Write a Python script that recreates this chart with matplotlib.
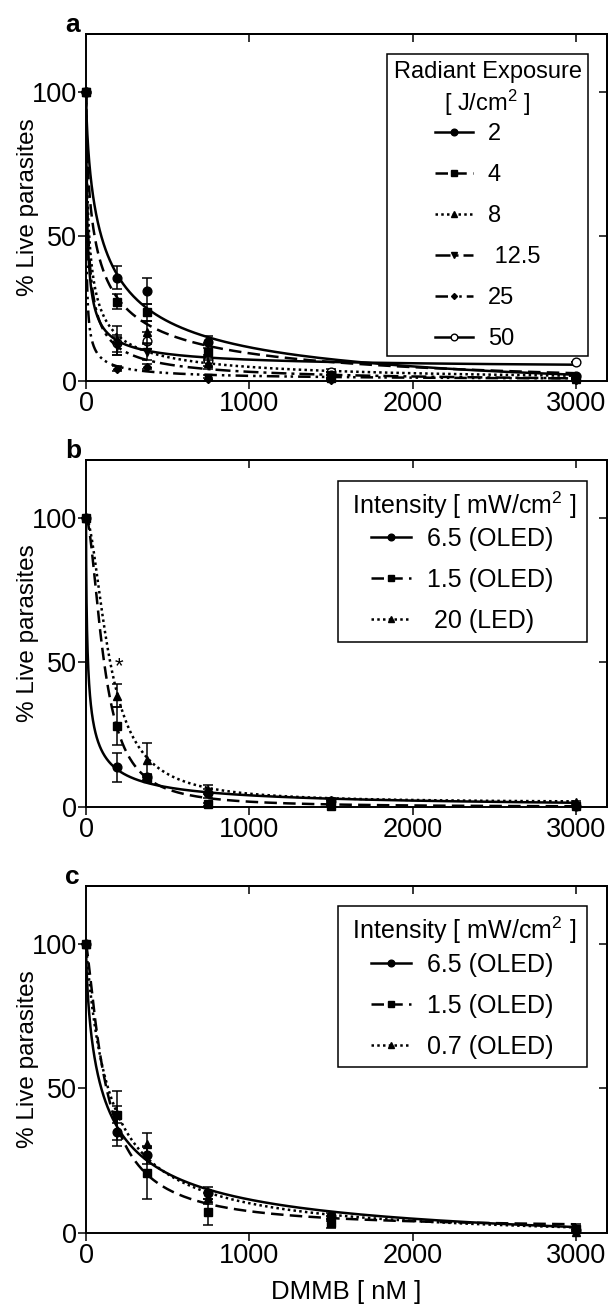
import numpy as np
import matplotlib.pyplot as plt
from matplotlib.lines import Line2D
from matplotlib import font_manager

names = {f.name for f in font_manager.fontManager.ttflist}
fam = 'Liberation Sans' if 'Liberation Sans' in names else 'DejaVu Sans'
plt.rcParams['font.family'] = fam
plt.rcParams['mathtext.fontset'] = 'custom'
plt.rcParams['mathtext.rm'] = fam
plt.rcParams['mathtext.it'] = fam + ':italic'
plt.rcParams['mathtext.bf'] = fam + ':bold'

# DMMB concentrations [nM]
dose = [0, 187.5, 375, 750, 1500, 3000]

# panel a - radiant exposure [J/cm2]
a_labels = ['2', '4', '8', ' 12.5', '25', '50']
a_mean = [[100, 35.7, 30.9, 13.4, 2.0, 1.5],
          [100, 27.4, 23.7, 10.0, 1.0, 1.0],
          [100, 14.0, 16.8, 6.0, 2.0, 0.5],
          [100, 12.0, 10.0, 1.0, 0.5, 0.3],
          [100, 4.2, 4.9, 0.5, 0.2, 0.2],
          [100, 12.9, 13.8, 7.0, 3.0, 6.3]]
a_sem = [[0, 4.0, 4.5, 2.0, 1.0, 0.5],
         [0, 2.5, 3.0, 3.0, 1.0, 0.5],
         [0, 5.0, 4.0, 2.0, 1.0, 0.5],
         [0, 3.0, 3.0, 1.0, 0.5, 0.0],
         [0, 1.0, 1.0, 0.5, 0.0, 0.0],
         [0, 3.0, 3.0, 2.0, 1.0, 0.0]]
# fitted curves: bottom, IC50, hill slope
a_fit = [[-8, 116, 0.70], [-5, 61, 0.655], [-1, 20.4, 0.72],
         [-1, 14.6, 0.75], [0, 2.5, 0.68], [4, 9.05, 0.71]]

# panel b - intensity [mW/cm2]
b_labels = ['6.5 (OLED)', '1.5 (OLED)', ' 20 (LED)']
b_mean = [[100, 13.7, 10.4, 4.7, 2.0, 0.5],
          [100, 28.1, 10.0, 1.0, 0.5, 0.2],
          [100, 38.5, 16.3, 6.0, 2.5, 1.8]]
b_sem = [[0, 4.9, 1.0, 1.5, 0.5, 0.3],
         [0, 6.5, 1.0, 0.5, 0.3, 0.0],
         [0, 4.0, 6.0, 1.5, 0.5, 0.3]]
b_fit = [[-1, 12.7, 0.675], [0, 111, 1.81], [1.5, 146, 1.78]]

# panel c - intensity [mW/cm2]
c_labels = ['6.5 (OLED)', '1.5 (OLED)', '0.7 (OLED)']
c_mean = [[100, 34.9, 27.0, 13.9, 6.0, 1.0],
          [100, 40.7, 20.6, 7.3, 3.4, 1.5],
          [100, 41.0, 30.9, 12.0, 5.0, 0.5]]
c_sem = [[0, 4.8, 3.0, 2.0, 1.0, 0.5],
         [0, 8.5, 9.0, 4.5, 1.5, 1.5],
         [0, 3.0, 3.7, 2.0, 1.0, 0.5]]
c_fit = [[-8, 116, 0.70], [1.5, 122.6, 1.3], [-3, 144, 0.985]]

a_styles = [('-', 'o', 'k'), ((0, (5, 2.5)), 's', 'k'), ((0, (1, 1.3)), '^', 'k'),
            ((0, (6, 2, 1.2, 2)), 'v', 'k'), ((0, (5, 2, 1, 1.5, 1, 2)), 'D', 'k'),
            ('-', 'o', 'w')]
bc_styles = [('-', 'o', 'k'), ((0, (5, 2.5)), 's', 'k'), ((0, (1, 1.3)), '^', 'k')]


def hill(x, bottom, ic50, slope):
    return bottom + (100 - bottom) / (1 + (x / ic50) ** slope)


xx = np.concatenate([[0], np.logspace(-1, np.log10(3000), 500)])


def panel(ax, means, sems, fits, labels, styles, title, fs_leg, letter, anchor,
          lsp, bpad, tsep):
    handles = []
    for m, e, f, lab, (ls, mk, fc) in zip(means, sems, fits, labels, styles):
        ax.plot(xx, hill(xx, *f), color='k', ls=ls, lw=1.8)
        ms = 4.5 if mk == 'D' else 6.3
        ax.errorbar(dose, m, yerr=e, fmt=mk, color='k', mfc=fc, mec='k', ms=ms,
                    capsize=3.5, elinewidth=1.1, capthick=1.1, clip_on=False,
                    zorder=2.5 if fc == 'w' else 3)
        handles.append(Line2D([], [], color='k', ls=ls, lw=1.8, marker=mk,
                              mfc=fc, mec='k', ms=ms - 1.5))
    ax.set_xlim(0, 3190)
    ax.set_ylim(0, 120)
    ax.set_xticks([0, 1000, 2000, 3000])
    ax.set_yticks([0, 50, 100])
    ax.tick_params(direction='out', length=5.5, width=1.1, labelsize=19.5, pad=2)
    ax.tick_params(axis='y', pad=1)
    sec_x = ax.secondary_xaxis('top')
    sec_x.set_xticks([1000, 2000, 3000])
    sec_x.tick_params(direction='in', length=5.5, width=1.1, labeltop=False)
    sec_y = ax.secondary_yaxis('right')
    sec_y.set_yticks([50, 100])
    sec_y.tick_params(direction='in', length=5.5, width=1.1, labelright=False)
    for s in list(ax.spines.values()) + [sec_x.spines['top'], sec_y.spines['right']]:
        s.set_linewidth(1.4)
    ax.set_ylabel('% Live parasites', fontsize=17.5)
    ax.yaxis.set_label_coords(-0.09, 0.5)
    leg = ax.legend(handles, labels, title=title, loc='upper right',
                    bbox_to_anchor=anchor, borderaxespad=0, fontsize=fs_leg,
                    title_fontsize=fs_leg, frameon=True, fancybox=False,
                    framealpha=1, edgecolor='k', handlelength=1.6,
                    handletextpad=0.65, labelspacing=lsp, borderpad=bpad)
    leg._legend_box.sep = tsep * fs_leg
    leg.get_title().set_multialignment('center')
    leg.get_frame().set_linewidth(1.1)
    ax.text(-0.04, 1.006, letter, transform=ax.transAxes, fontsize=19,
            fontweight='bold', ha='left', va='baseline')


fig = plt.figure(figsize=(6.08, 13.14), dpi=100)
ax_a = fig.add_axes([86 / 608, 1 - 380.7 / 1314, 521 / 608, 346.7 / 1314])
ax_b = fig.add_axes([86 / 608, 1 - 807 / 1314, 521 / 608, 347 / 1314])
ax_c = fig.add_axes([86 / 608, 1 - 1233 / 1314, 521 / 608, 347 / 1314])

panel(ax_a, a_mean, a_sem, a_fit, a_labels, a_styles,
      'Radiant Exposure\n[ J/cm$^2$ ]', 17, 'a', (0.964, 0.942), 0.8, 0.28, 0.25)
panel(ax_b, b_mean, b_sem, b_fit, b_labels, bc_styles,
      ' Intensity [ mW/cm$^2$ ] ', 18, 'b', (0.962, 0.94), 0.68, 0.35, 0.25)
panel(ax_c, c_mean, c_sem, c_fit, c_labels, bc_styles,
      ' Intensity [ mW/cm$^2$ ] ', 18, 'c', (0.962, 0.942), 0.68, 0.35, 0.25)

# significance mark on panel b
ax_b.text(204, 45, '*', fontsize=16, ha='center', va='bottom')

ax_c.set_xlabel('DMMB [ nM ]', fontsize=18.5)
ax_c.xaxis.set_label_coords(0.5, -0.135)

fig.savefig('out.png', dpi=100, facecolor='white')
